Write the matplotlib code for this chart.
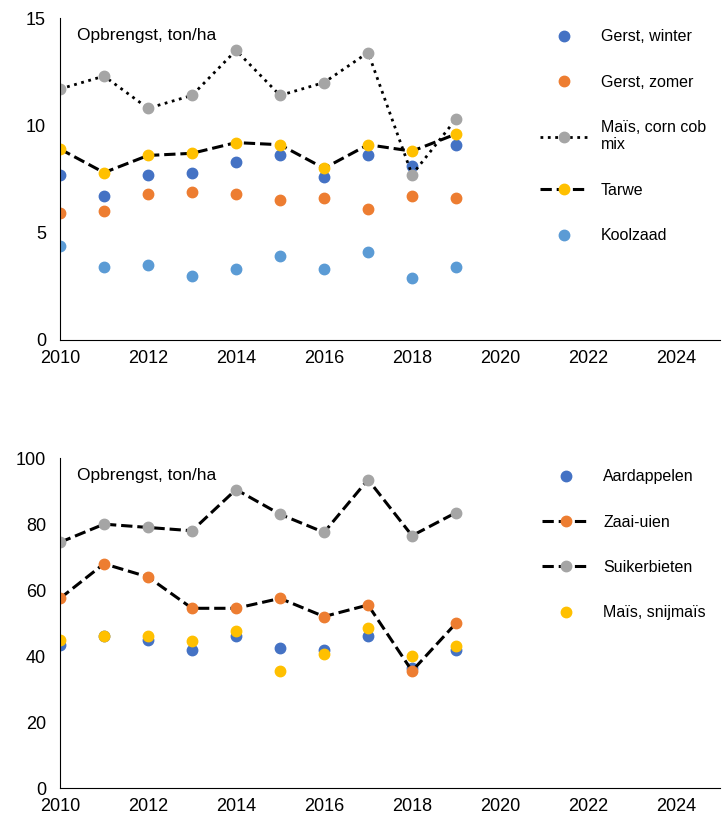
import numpy as np
import matplotlib.pyplot as plt

plt.rcParams['font.family'] = ['Liberation Sans', 'DejaVu Sans']

years = np.arange(2010, 2020)

# top panel
gerst_winter = [7.7, 6.7, 7.7, 7.8, 8.3, 8.6, 7.6, 8.6, 8.1, 9.1]
gerst_zomer = [5.9, 6.0, 6.8, 6.9, 6.8, 6.5, 6.6, 6.1, 6.7, 6.6]
mais_ccm = [11.7, 12.3, 10.8, 11.4, 13.5, 11.4, 12.0, 13.4, 7.7, 10.3]
tarwe = [8.9, 7.8, 8.6, 8.7, 9.2, 9.1, 8.0, 9.1, 8.8, 9.6]
koolzaad = [4.4, 3.4, 3.5, 3.0, 3.3, 3.9, 3.3, 4.1, 2.9, 3.4]

# bottom panel
aardappelen = [43.5, 46, 45, 42, 46, 42.5, 42, 46, 36.5, 42]
zaai_uien = [57.5, 68, 64, 54.5, 54.5, 57.5, 52, 55.5, 35.5, 50]
suikerbieten = [74.5, 80, 79, 78, 90.5, 83, 77.5, 93.5, 76.5, 83.5]
mais_snij = [45, 46, 46, 44.5, 47.5, 35.5, 40.5, 48.5, 40, 43]

blue, orange, gray, yellow, lblue = '#4472C4', '#ED7D31', '#A5A5A5', '#FFC000', '#5B9BD5'

fig = plt.figure(figsize=(7.23, 8.27), dpi=100)
ax1 = fig.add_axes([0.083, 0.589, 0.913, 0.389])
ax2 = fig.add_axes([0.083, 0.047, 0.913, 0.399])

ms = 7.5
ax1.plot(years, gerst_winter, 'o', color=blue, ms=ms, label='Gerst, winter')
ax1.plot(years, gerst_zomer, 'o', color=orange, ms=ms, label='Gerst, zomer')
ax1.plot(years, mais_ccm, ':', color='black', lw=2, marker='o', mfc=gray, mec=gray, ms=ms,
         label='Maïs, corn cob\nmix')
ax1.plot(years, tarwe, '--', color='black', lw=2.2, marker='o', mfc=yellow, mec=yellow, ms=ms,
         label='Tarwe')
ax1.plot(years, koolzaad, 'o', color=lblue, ms=ms, label='Koolzaad')
ax1.set_ylim(0, 15)
ax1.set_yticks([0, 5, 10, 15])

ax2.plot(years, aardappelen, 'o', color=blue, ms=ms, label='Aardappelen')
ax2.plot(years, zaai_uien, '--', color='black', lw=2.2, marker='o', mfc=orange, mec=orange, ms=ms,
         label='Zaai-uien')
ax2.plot(years, suikerbieten, '--', color='black', lw=2.2, marker='o', mfc=gray, mec=gray, ms=ms,
         label='Suikerbieten')
ax2.plot(years, mais_snij, 'o', color=yellow, ms=ms, label='Maïs, snijmaïs')
ax2.set_ylim(0, 100)
ax2.set_yticks(range(0, 101, 20))

for ax in (ax1, ax2):
    ax.set_xlim(2010, 2025)
    ax.set_xticks(range(2010, 2025, 2))
    ax.spines['top'].set_visible(False)
    ax.spines['right'].set_visible(False)
    ax.tick_params(axis='x', length=0, labelsize=13, pad=7)
    ax.tick_params(axis='y', length=0, labelsize=13, pad=10)
    ax.text(0.025, 0.97, 'Opbrengst, ton/ha', transform=ax.transAxes, fontsize=12.5, va='top')
    ax.legend(loc='upper right', frameon=False, fontsize=11.5, labelspacing=1.9,
              handlelength=3, bbox_to_anchor=(1.0, 1.01))

fig.savefig('out.png', dpi=100)
